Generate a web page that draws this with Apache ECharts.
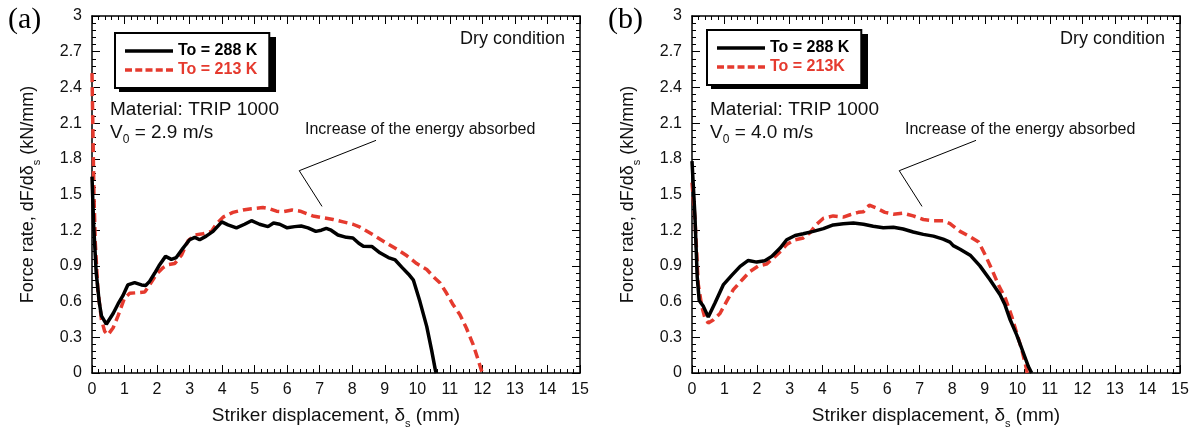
<!DOCTYPE html>
<html>
<head>
<meta charset="utf-8">
<script src="https://cdn.jsdelivr.net/npm/echarts@6/dist/echarts.min.js"></script>
<style>
  body { margin: 0; background: #fff; }
  #chart { width: 1196px; height: 434px; }
</style>
</head>
<body>
<div id="chart"></div>
<script>
// x ticks 0..15 (mm), y ticks 0..3 step 0.3 (kN/mm)
var xMin = 0, xMax = 15, xStep = 1;
var yMin = 0, yMax = 3, yStep = 0.3;

// (a) V0 = 2.9 m/s
var a288 = [[0,1.65],[0.05,1.25],[0.13,0.84],[0.22,0.6],[0.29,0.48],[0.44,0.41],[0.65,0.5],[0.8,0.58],[0.95,0.65],[1.1,0.74],[1.31,0.76],[1.52,0.74],[1.65,0.735],[1.77,0.77],[1.93,0.84],[2.08,0.91],[2.26,0.98],[2.44,0.955],[2.59,0.97],[2.8,1.05],[3.0,1.12],[3.16,1.14],[3.31,1.12],[3.51,1.15],[3.72,1.19],[3.99,1.27],[4.18,1.245],[4.44,1.22],[4.69,1.25],[4.9,1.28],[5.15,1.25],[5.41,1.23],[5.58,1.26],[5.77,1.25],[6.0,1.22],[6.23,1.23],[6.43,1.235],[6.64,1.22],[6.88,1.19],[7.05,1.2],[7.2,1.215],[7.35,1.2],[7.56,1.16],[7.82,1.14],[8.02,1.135],[8.2,1.09],[8.34,1.065],[8.6,1.064],[8.85,1.01],[9.11,0.97],[9.32,0.95],[9.52,0.89],[9.73,0.83],[9.88,0.78],[10.08,0.6],[10.29,0.39],[10.44,0.19],[10.55,0.03],[10.58,0]];
var a213 = [[0,2.52],[0.03,2.0],[0.06,1.5],[0.1,1.1],[0.18,0.7],[0.29,0.45],[0.39,0.35],[0.49,0.32],[0.65,0.38],[0.8,0.48],[1.0,0.63],[1.16,0.67],[1.41,0.675],[1.62,0.68],[1.77,0.74],[1.98,0.83],[2.18,0.885],[2.34,0.91],[2.54,0.92],[2.75,0.99],[2.95,1.11],[3.16,1.16],[3.41,1.17],[3.67,1.19],[3.82,1.25],[4.03,1.31],[4.33,1.35],[4.64,1.37],[4.9,1.38],[5.25,1.39],[5.46,1.38],[5.67,1.36],[5.87,1.355],[6.15,1.37],[6.4,1.36],[6.79,1.32],[7.1,1.305],[7.41,1.29],[7.72,1.27],[8.02,1.25],[8.24,1.225],[8.65,1.16],[9.06,1.09],[9.37,1.04],[9.68,0.985],[9.98,0.92],[10.29,0.87],[10.49,0.81],[10.7,0.756],[10.9,0.67],[11.1,0.573],[11.31,0.49],[11.51,0.376],[11.72,0.236],[11.87,0.11],[11.98,0.012],[12.0,0]];

// (b) V0 = 4.0 m/s
var b288 = [[0,1.78],[0.09,1.32],[0.16,0.81],[0.22,0.61],[0.35,0.56],[0.5,0.47],[0.71,0.59],[0.96,0.74],[1.22,0.82],[1.48,0.896],[1.73,0.946],[1.99,0.932],[2.24,0.944],[2.45,0.98],[2.71,1.05],[2.91,1.12],[3.17,1.155],[3.42,1.17],[3.73,1.19],[4.04,1.213],[4.34,1.244],[4.65,1.255],[4.96,1.26],[5.27,1.25],[5.57,1.233],[5.88,1.22],[6.19,1.225],[6.49,1.21],[6.8,1.185],[7.11,1.165],[7.42,1.15],[7.72,1.125],[7.93,1.1],[8.03,1.07],[8.24,1.04],[8.55,0.99],[8.85,0.9],[9.16,0.783],[9.47,0.657],[9.62,0.573],[9.78,0.447],[9.98,0.32],[10.19,0.166],[10.34,0.054],[10.44,0]];
var b213 = [[0,1.6],[0.09,1.3],[0.14,1.03],[0.19,0.75],[0.3,0.56],[0.4,0.46],[0.5,0.42],[0.65,0.445],[0.86,0.5],[1.06,0.6],[1.27,0.7],[1.53,0.78],[1.78,0.853],[2.04,0.9],[2.29,0.915],[2.5,0.965],[2.71,1.02],[2.91,1.08],[3.17,1.12],[3.42,1.135],[3.63,1.18],[3.83,1.25],[4.04,1.3],[4.34,1.32],[4.65,1.31],[4.86,1.33],[5.11,1.35],[5.27,1.355],[5.45,1.41],[5.68,1.385],[5.93,1.35],[6.19,1.335],[6.49,1.343],[6.8,1.32],[7.11,1.29],[7.42,1.28],[7.72,1.28],[7.93,1.256],[8.24,1.19],[8.55,1.145],[8.81,1.1],[9.01,0.994],[9.22,0.868],[9.42,0.74],[9.63,0.629],[9.83,0.475],[9.98,0.335],[10.14,0.194],[10.24,0.082],[10.29,0.025],[10.3,0]];

// leader line of the "Increase of the energy absorbed" note (same in both panels)
var leader = [[8.73,1.955],[6.37,1.70],[7.07,1.40]];

var names = ['To = 288 K', 'To = 213 K', 'To = 213K'];
var red = '#e53a2e';
var font = 'Liberation Sans, Arial, sans-serif';

// legend line samples: solid bar and 5 dashes
var iconSolid = 'path://M0,0H48V3.5H0Z';
var iconDash = 'path://M0,0H7V3.5H0Z M10.25,0H17.25V3.5H10.25Z M20.5,0H27.5V3.5H20.5Z M30.75,0H37.75V3.5H30.75Z M41,0H48V3.5H41Z';

var chart = echarts.init(document.getElementById('chart'));

// one x axis (bottom with labels, top as mirror) per panel
function xAx(grid, pos) {
  var main = pos === 'bottom';
  return {
    type: 'value', gridIndex: grid, position: pos,
    min: xMin, max: xMax, interval: xStep,
    name: main ? 'Striker displacement, δ{s|s} (mm)' : '',
    nameLocation: 'middle', nameGap: 29,
    nameTextStyle: {
      fontFamily: font, fontSize: 19, color: '#111',
      rich: { s: { fontSize: 11, padding: [16, 0, 0, 0], fontFamily: font } }
    },
    axisLine: { show: true, onZero: false, lineStyle: { color: '#000', width: 1.5 } },
    axisTick: { show: true, inside: true, length: 8, lineStyle: { color: '#000' } },
    minorTick: { show: true, splitNumber: 5, length: 4, lineStyle: { color: '#000' } },
    axisLabel: { show: main, fontFamily: font, fontSize: 16, color: '#111', margin: 9 },
    splitLine: { show: false }
  };
}
function yAx(grid, pos) {
  var main = pos === 'left';
  return {
    type: 'value', gridIndex: grid, position: pos,
    min: yMin, max: yMax, interval: yStep,
    name: main ? 'Force rate, dF/dδ{s|s} (kN/mm)' : '',
    nameLocation: 'middle', nameGap: 50,
    nameTextStyle: {
      fontFamily: font, fontSize: 18, color: '#111',
      rich: { s: { fontSize: 11, padding: [16, 0, 0, 0], fontFamily: font } }
    },
    axisLine: { show: true, onZero: false, lineStyle: { color: '#000', width: 1.5 } },
    axisTick: { show: true, inside: true, length: 8, lineStyle: { color: '#000' } },
    minorTick: { show: true, splitNumber: 5, length: 4, lineStyle: { color: '#000' } },
    axisLabel: {
      show: main, fontFamily: font, fontSize: 16, color: '#111', margin: 10,
      formatter: function (v) { return String(+v.toFixed(1)); }
    },
    splitLine: { show: false }
  };
}

function curve(name, data, xi, yi, dashed) {
  return {
    name: name, type: 'line', xAxisIndex: xi, yAxisIndex: yi,
    data: data, symbol: 'none', smooth: false, z: dashed ? 3 : 4,
    lineStyle: dashed
      ? { color: red, width: 3.5, type: [9, 5] }
      : { color: '#000', width: 3.5 },
    itemStyle: { color: dashed ? red : '#000' }
  };
}
function note(data, xi, yi) {
  return {
    type: 'line', xAxisIndex: xi, yAxisIndex: yi, data: data,
    symbol: 'none', silent: true,
    lineStyle: { color: '#000', width: 1 }
  };
}

function legendBox(left, top, n2) {
  return {
    left: left, top: top, orient: 'vertical', itemGap: 3,
    itemWidth: 48, itemHeight: 16,
    padding: [10, 12, 10, 10],
    borderColor: '#000', borderWidth: 2, backgroundColor: '#fff',
    textStyle: { fontFamily: font, fontSize: 16, fontWeight: 'bold' },
    data: [
      { name: names[0], icon: iconSolid, textStyle: { color: '#000' } },
      { name: n2, icon: iconDash, textStyle: { color: red } }
    ]
  };
}

// texts and the hard shadow behind each legend box
function texts(x0, label, v0, dryRight, noteLeft, box) {
  return [
    { type: 'rect', left: box[0] + 4, top: box[1] + 4, z: -1,
      shape: { width: box[2], height: box[3] }, style: { fill: '#000' } },
    { type: 'text', left: x0, top: 5, style: { text: label, font: '30px Liberation Serif, Times New Roman, serif', fill: '#000' } },
    { type: 'text', left: x0 + 102, top: 100, style: { text: 'Material: TRIP 1000', font: '19px ' + font, fill: '#111' } },
    { type: 'text', left: x0 + 102, top: 123, style: {
        text: 'V{s|0} = ' + v0 + ' m/s', font: '19px ' + font, fill: '#111',
        rich: { s: { fontSize: 12, padding: [14, 0, 0, 0], fontFamily: font } } } },
    { type: 'text', right: 1196 - dryRight, top: 30, style: { text: 'Dry condition', font: '18px ' + font, fill: '#111' } },
    { type: 'text', left: noteLeft, top: 122, style: { text: 'Increase of the energy absorbed', font: '16px ' + font, fill: '#111' } }
  ];
}

var option = {
  backgroundColor: '#fff',
  animation: false,
  grid: [
    { left: 92, top: 16, width: 488, height: 357 },
    { left: 692, top: 16, width: 488, height: 357 }
  ],
  xAxis: [xAx(0, 'bottom'), xAx(0, 'top'), xAx(1, 'bottom'), xAx(1, 'top')],
  yAxis: [yAx(0, 'left'), yAx(0, 'right'), yAx(1, 'left'), yAx(1, 'right')],
  legend: [legendBox(115, 33, names[1]), legendBox(707, 30, names[2])],
  graphic: texts(8, '(a)', '2.9', 565, 305, [115, 33, 157, 55])
    .concat(texts(608, '(b)', '4.0', 1165, 905, [707, 30, 157, 55])),
  series: [
    curve(names[1], a213, 0, 0, true),
    curve(names[0], a288, 0, 0, false),
    note(leader, 0, 0),
    curve(names[2], b213, 2, 2, true),
    curve(names[0], b288, 2, 2, false),
    note(leader, 2, 2)
  ]
};
chart.setOption(option);
</script>
</body>
</html>
